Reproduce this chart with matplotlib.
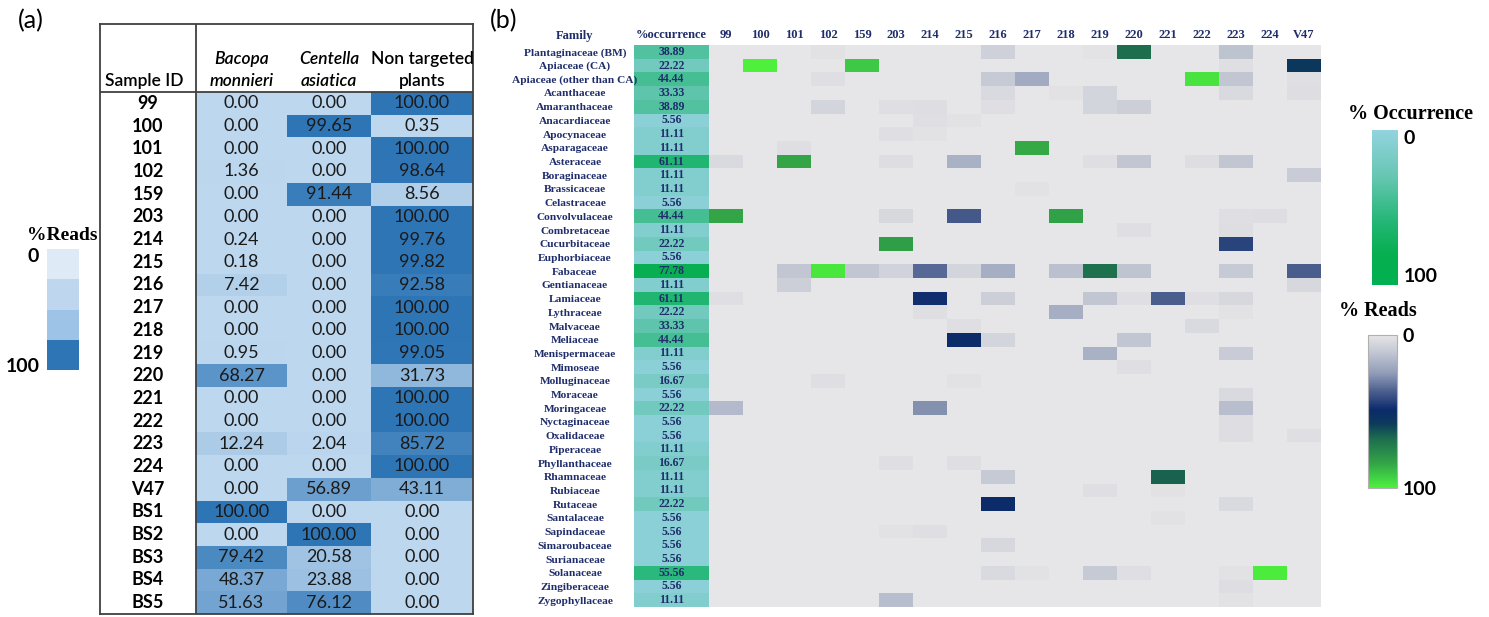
import numpy as np
import matplotlib
matplotlib.use('Agg')
import matplotlib.pyplot as plt
from matplotlib.colors import LinearSegmentedColormap, ListedColormap, BoundaryNorm, Normalize
from matplotlib.cm import ScalarMappable

W, H = 1489, 617

# ---- panel (a) data
sample_ids = ['99', '100', '101', '102', '159', '203', '214', '215', '216', '217', '218', '219',
              '220', '221', '222', '223', '224', 'V47', 'BS1', 'BS2', 'BS3', 'BS4', 'BS5']
bacopa = [0.00, 0.00, 0.00, 1.36, 0.00, 0.00, 0.24, 0.18, 7.42, 0.00, 0.00, 0.95,
          68.27, 0.00, 0.00, 12.24, 0.00, 0.00, 100.00, 0.00, 79.42, 48.37, 51.63]
centella = [0.00, 99.65, 0.00, 0.00, 91.44, 0.00, 0.00, 0.00, 0.00, 0.00, 0.00, 0.00,
            0.00, 0.00, 0.00, 2.04, 0.00, 56.89, 0.00, 100.00, 20.58, 23.88, 76.12]
non_targeted = [100.00, 0.35, 100.00, 98.64, 8.56, 100.00, 99.76, 99.82, 92.58, 100.00, 100.00, 99.05,
                31.73, 100.00, 100.00, 85.72, 100.00, 43.11, 0.00, 0.00, 0.00, 0.00, 0.00]

# ---- panel (b) data
samples = ['99', '100', '101', '102', '159', '203', '214', '215', '216', '217', '218', '219',
           '220', '221', '222', '223', '224', 'V47']
families = ['Plantaginaceae (BM)', 'Apiaceae (CA)', 'Apiaceae (other than CA)', 'Acanthaceae',
            'Amaranthaceae', 'Anacardiaceae', 'Apocynaceae', 'Asparagaceae', 'Asteraceae',
            'Boraginaceae', 'Brassicaceae', 'Celastraceae', 'Convolvulaceae', 'Combretaceae',
            'Cucurbitaceae', 'Euphorbiaceae', 'Fabaceae', 'Gentianaceae', 'Lamiaceae', 'Lythraceae',
            'Malvaceae', 'Meliaceae', 'Menispermaceae', 'Mimoseae', 'Molluginaceae', 'Moraceae',
            'Moringaceae', 'Nyctaginaceae', 'Oxalidaceae', 'Piperaceae', 'Phyllanthaceae',
            'Rhamnaceae', 'Rubiaceae', 'Rutaceae', 'Santalaceae', 'Sapindaceae', 'Simaroubaceae',
            'Surianaceae', 'Solanaceae', 'Zingiberaceae', 'Zygophyllaceae']
occurrence = [38.89, 22.22, 44.44, 33.33, 38.89, 5.56, 11.11, 11.11, 61.11, 11.11, 11.11, 5.56,
              44.44, 11.11, 22.22, 5.56, 77.78, 11.11, 61.11, 22.22, 33.33, 44.44, 11.11, 5.56,
              16.67, 5.56, 22.22, 5.56, 5.56, 11.11, 16.67, 11.11, 11.11, 22.22, 5.56, 5.56,
              5.56, 5.56, 55.56, 5.56, 11.11]
# % reads per family (rows) and sample (columns), estimated from the colours
reads = [
    [0, 0, 0, 1.36, 0, 0, 0.24, 0.18, 7.42, 0, 0, 0.95, 68.27, 0, 0, 12.24, 0, 0],
    [0, 99.65, 0, 0, 91.44, 0, 0, 0, 0, 0, 0, 0, 0, 0, 0, 2.04, 0, 56.89],
    [0, 0, 0, 2, 0, 0, 0, 0, 10, 20, 0, 0, 0, 0, 97, 11, 0, 2],
    [0, 0, 0, 0, 0, 0, 0, 0, 4, 0, 1.5, 6, 0, 0, 0, 4, 0, 3],
    [0, 0, 0, 6, 0, 2, 3, 0, 2, 0, 0, 6, 8, 0, 0, 0, 0, 0],
    [0, 0, 0, 0, 0, 0, 2, 1.5, 0, 0, 0, 0, 0, 0, 0, 0, 0, 0],
    [0, 0, 0, 0, 0, 2, 1.5, 0, 0, 0, 0, 0, 0, 0, 0, 0, 0, 0],
    [0, 0, 2, 0, 0, 0, 0, 0, 0, 85, 0, 0, 0, 0, 0, 0, 0, 0],
    [4, 0, 84, 0, 0, 3, 0, 18, 0, 0, 0, 2, 11, 0, 3, 11, 0, 0],
    [0, 0, 0, 0, 0, 0, 0, 0, 0, 0, 0, 0, 0, 0, 0, 0, 0, 9],
    [0, 0, 0, 0, 0, 0, 0, 0, 0, 1.5, 0, 0, 0, 0, 0, 0, 0, 0],
    [0, 0, 0, 0, 0, 0, 0, 0, 0, 0, 0, 0, 0, 0, 0, 0, 0, 0],
    [84, 0, 0, 0, 0, 5, 0, 38, 0, 0, 83, 0, 0, 0, 0, 2, 3, 0],
    [0, 0, 0, 0, 0, 0, 0, 0, 0, 0, 0, 0, 2, 0, 0, 3, 0, 0],
    [0, 0, 0, 0, 0, 82, 0, 0, 0, 0, 0, 0, 0, 0, 0, 43, 0, 0],
    [0, 0, 0, 0, 0, 0, 0, 0, 0, 0, 0, 0, 0, 0, 0, 0, 0, 0],
    [0, 0, 11, 98, 11, 7, 35, 6, 19, 0, 13, 69, 12, 0, 0, 10, 0, 37],
    [0, 0, 8, 0, 0, 0, 0, 0, 0, 0, 0, 0, 0, 0, 0, 0, 0, 5],
    [2, 0, 0, 0, 0, 0, 48, 0, 8, 0, 0, 11, 2, 37, 2, 5, 0, 0],
    [0, 0, 0, 0, 0, 0, 2, 0, 0, 0, 19, 0, 0, 0, 0, 1.5, 0, 0],
    [0, 0, 0, 0, 0, 0, 0, 2, 0, 0, 0, 0, 0, 0, 4, 0, 0, 0],
    [0, 0, 0, 0, 0, 0, 0, 50, 6, 0, 0, 0, 11, 0, 0, 0, 0, 0],
    [0, 0, 0, 0, 0, 0, 0, 0, 0, 0, 0, 18, 0, 0, 0, 9, 0, 0],
    [0, 0, 0, 0, 0, 0, 0, 0, 0, 0, 0, 0, 2, 0, 0, 0, 0, 0],
    [0, 0, 0, 2, 0, 0, 0, 1.5, 0, 0, 0, 0, 0, 0, 0, 0, 0, 0],
    [0, 0, 0, 0, 0, 0, 0, 0, 0, 0, 0, 0, 0, 0, 0, 4, 0, 0],
    [15, 0, 0, 0, 0, 0, 27, 0, 0, 0, 0, 0, 0, 0, 0, 14, 0, 0],
    [0, 0, 0, 0, 0, 0, 0, 0, 0, 0, 0, 0, 0, 0, 0, 3, 0, 0],
    [0, 0, 0, 0, 0, 0, 0, 0, 0, 0, 0, 0, 0, 0, 0, 3, 0, 2],
    [0, 0, 0, 0, 0, 0, 0, 0, 0, 0, 0, 0, 0, 0, 0, 0, 0, 0],
    [0, 0, 0, 0, 0, 2, 0, 2, 0, 0, 0, 0, 0, 0, 0, 0, 0, 0],
    [0, 0, 0, 0, 0, 0, 0, 0, 10, 0, 0, 0, 0, 66, 0, 0, 0, 0],
    [0, 0, 0, 0, 0, 0, 0, 0, 0, 0, 0, 2, 0, 1.5, 0, 0, 0, 0],
    [0, 0, 0, 0, 0, 0, 0, 0, 50, 0, 0, 0, 0, 0, 0, 4, 0, 0],
    [0, 0, 0, 0, 0, 0, 0, 0, 0, 0, 0, 0, 0, 1.5, 0, 0, 0, 0],
    [0, 0, 0, 0, 0, 1.5, 2, 0, 0, 0, 0, 0, 0, 0, 0, 0, 0, 0],
    [0, 0, 0, 0, 0, 0, 0, 0, 5, 0, 0, 0, 0, 0, 0, 0, 0, 0],
    [0, 0, 0, 0, 0, 0, 0, 0, 0, 0, 0, 0, 0, 0, 0, 0, 0, 0],
    [0, 0, 0, 0, 0, 0, 0, 0, 4, 1.5, 0, 10, 2, 0, 0, 1.5, 99, 0],
    [0, 0, 0, 0, 0, 0, 0, 0, 0, 0, 0, 0, 0, 0, 0, 3, 0, 0],
    [0, 0, 0, 0, 0, 14, 0, 0, 0, 0, 0, 0, 0, 0, 0, 1.5, 0, 0],
]

# colour maps
cmap_table = LinearSegmentedColormap.from_list('tab', ['#bdd7ee', '#2e75b6'])
cmap_legend_a = ListedColormap(['#deeaf6', '#bed7ee', '#9dc3e6', '#2e75b6'])
cmap_occ = LinearSegmentedColormap.from_list(
    'occ', [(0, '#93d3df'), (0.3, '#66c6b2'), (0.6, '#22b674'), (0.8, '#06af4f'), (1, '#00b050')])
cmap_reads = LinearSegmentedColormap.from_list(
    'reads', [(0.0, '#e6e5e7'), (0.1, '#c6cad5'), (0.25, '#909cb7'), (0.37, '#4a5e8e'),
              (0.49, '#0b2a6b'), (0.58, '#0d3a5c'), (0.68, '#1d6e4e'), (0.84, '#33a447'),
              (0.93, '#3fd046'), (1.0, '#4ef03c')])

navy = '#1f2d6b'
sans = 'Lato'
serif = 'Liberation Serif'


def px(x0, y0, x1, y1):
    return [x0 / W, 1 - y1 / H, (x1 - x0) / W, (y1 - y0) / H]


fig = plt.figure(figsize=(W / 100, H / 100), dpi=100)
fig.patch.set_facecolor('white')

# ================= panel (a) =================
fig.text(31 / W, 1 - 21 / H, '(a)', fontsize=18, family=sans, ha='center', va='center')

ax_t = fig.add_axes(px(100, 24, 473, 614))
x_edges = [0, 96, 187, 271, 373]
n = len(sample_ids)
vals = np.array([bacopa, centella, non_targeted]).T
ax_t.pcolormesh(x_edges[1:], np.arange(n + 1), vals, cmap=cmap_table, vmin=0, vmax=100)
ax_t.set_xlim(0, 373)
ax_t.set_ylim(n, -3)
ax_t.set_xticks([])
ax_t.set_yticks([])
for s in ax_t.spines.values():
    s.set_color('#404040')
    s.set_linewidth(1.3)
ax_t.axvline(96, color='#404040', lw=1.3)
ax_t.axhline(0, color='#404040', lw=1.3)

centers = [(x_edges[i] + x_edges[i + 1]) / 2 for i in range(4)]
for i, sid in enumerate(sample_ids):
    ax_t.text(centers[0], i + 0.5, sid, ha='center', va='center', fontsize=13,
              fontweight='bold', family=sans)
    for j, v in enumerate(vals[i]):
        ax_t.text(centers[j + 1], i + 0.5, f'{v:.2f}', ha='center', va='center',
                  fontsize=13, family=sans, color='#1a1a1a')

ax_t.text(5, -0.5, 'Sample ID', ha='left', va='center', fontsize=12.5, family=sans,
          fontweight='semibold')
ax_t.text(centers[1], -1.45, 'Bacopa', ha='center', va='center', fontsize=12.5,
          family=sans, style='italic', fontweight='semibold')
ax_t.text(centers[1], -0.5, 'monnieri', ha='center', va='center', fontsize=12.5,
          family=sans, style='italic', fontweight='semibold')
ax_t.text(centers[2], -1.45, 'Centella', ha='center', va='center', fontsize=12.5,
          family=sans, style='italic', fontweight='semibold')
ax_t.text(centers[2], -0.5, 'asiatica', ha='center', va='center', fontsize=12.5,
          family=sans, style='italic', fontweight='semibold')
ax_t.text(centers[3], -1.45, 'Non targeted', ha='center', va='center', fontsize=12.5,
          family=sans, fontweight='semibold')
ax_t.text(centers[3], -0.5, 'plants', ha='center', va='center', fontsize=12.5,
          family=sans, fontweight='semibold')

# discrete legend of panel (a)
cax_a = fig.add_axes(px(47, 249, 79, 370))
cb_a = fig.colorbar(ScalarMappable(BoundaryNorm([0, 25, 50, 75, 100], 4), cmap_legend_a),
                    cax=cax_a)
cax_a.invert_yaxis()
cb_a.outline.set_visible(False)
cax_a.set_yticks([])
cax_a.minorticks_off()
cax_a.tick_params(which='both', length=0, labelright=False)
fig.text(62 / W, 1 - 236 / H, '%Reads', fontsize=14, family=serif, fontweight='bold',
         ha='center', va='center')
fig.text(33 / W, 1 - 256 / H, '0', fontsize=14, family=sans, fontweight='bold',
         ha='center', va='center')
fig.text(23 / W, 1 - 367 / H, '100', fontsize=14, family=sans, fontweight='bold',
         ha='center', va='center')

# ================= panel (b) =================
fig.text(504 / W, 1 - 21 / H, '(b)', fontsize=18, family=sans, ha='center', va='center')

nf = len(families)
ax_o = fig.add_axes(px(634, 45, 709, 607))
ax_o.imshow(np.array(occurrence)[:, None], cmap=cmap_occ, vmin=0, vmax=100,
            aspect='auto', interpolation='nearest')
for i, v in enumerate(occurrence):
    ax_o.text(0, i, f'{v:.2f}', ha='center', va='center', fontsize=8.5, family=serif,
              fontweight='bold', color=navy)
ax_o.set_yticks(range(nf))
ax_o.set_yticklabels(families, fontsize=8.2, family=serif, fontweight='bold', color=navy,
                     ha='center')
ax_o.tick_params(axis='y', length=0, pad=42.5)
ax_o.xaxis.tick_top()
ax_o.set_xticks([0])
ax_o.set_xticklabels(['%occurrence'], fontsize=9, family=serif, fontweight='bold', color=navy)
ax_o.tick_params(axis='x', length=0, pad=3)
for s in ax_o.spines.values():
    s.set_visible(False)

ax_h = fig.add_axes(px(709, 45, 1321, 607))
ax_h.imshow(np.array(reads), cmap=cmap_reads, vmin=0, vmax=100, aspect='auto',
            interpolation='nearest')
ax_h.xaxis.tick_top()
ax_h.set_xticks(range(len(samples)))
ax_h.set_xticklabels(samples, fontsize=9, family=serif, fontweight='bold', color=navy)
ax_h.tick_params(axis='x', length=0, pad=3)
ax_h.set_yticks([])
for s in ax_h.spines.values():
    s.set_visible(False)

fig.text(575 / W, 1 - 36 / H, 'Family', fontsize=9, family=serif, fontweight='bold',
         color=navy, ha='center', va='center')

# colour bars of panel (b)
cax_o = fig.add_axes(px(1372, 130, 1398, 285))
cb_o = fig.colorbar(ScalarMappable(Normalize(0, 100), cmap_occ), cax=cax_o)
cax_o.invert_yaxis()
cb_o.outline.set_visible(False)
cax_o.set_yticks([0, 100])
cax_o.set_yticklabels(['0', '100'], fontsize=14, family=sans, fontweight='bold')
cax_o.get_yticklabels()[0].set_va('top')
cax_o.get_yticklabels()[1].set_va('bottom')
cax_o.minorticks_off()
cax_o.tick_params(which='both', length=0, pad=4)
fig.text(1411 / W, 1 - 114 / H, '% Occurrence', fontsize=14.5, family=serif,
         fontweight='bold', ha='center', va='center')

cax_r = fig.add_axes(px(1368, 335, 1397, 488))
cb_r = fig.colorbar(ScalarMappable(Normalize(0, 100), cmap_reads), cax=cax_r)
cax_r.invert_yaxis()
cb_r.outline.set_edgecolor('#b0b0b0')
cb_r.outline.set_linewidth(0.8)
cax_r.set_yticks([0, 100])
cax_r.set_yticklabels(['0', '100'], fontsize=14, family=sans, fontweight='bold')
cax_r.minorticks_off()
cax_r.tick_params(which='both', length=0, pad=4)
fig.text(1378 / W, 1 - 311 / H, '% Reads', fontsize=14.5, family=serif,
         fontweight='bold', ha='center', va='center')

fig.savefig('out.png', dpi=100, facecolor='white')
